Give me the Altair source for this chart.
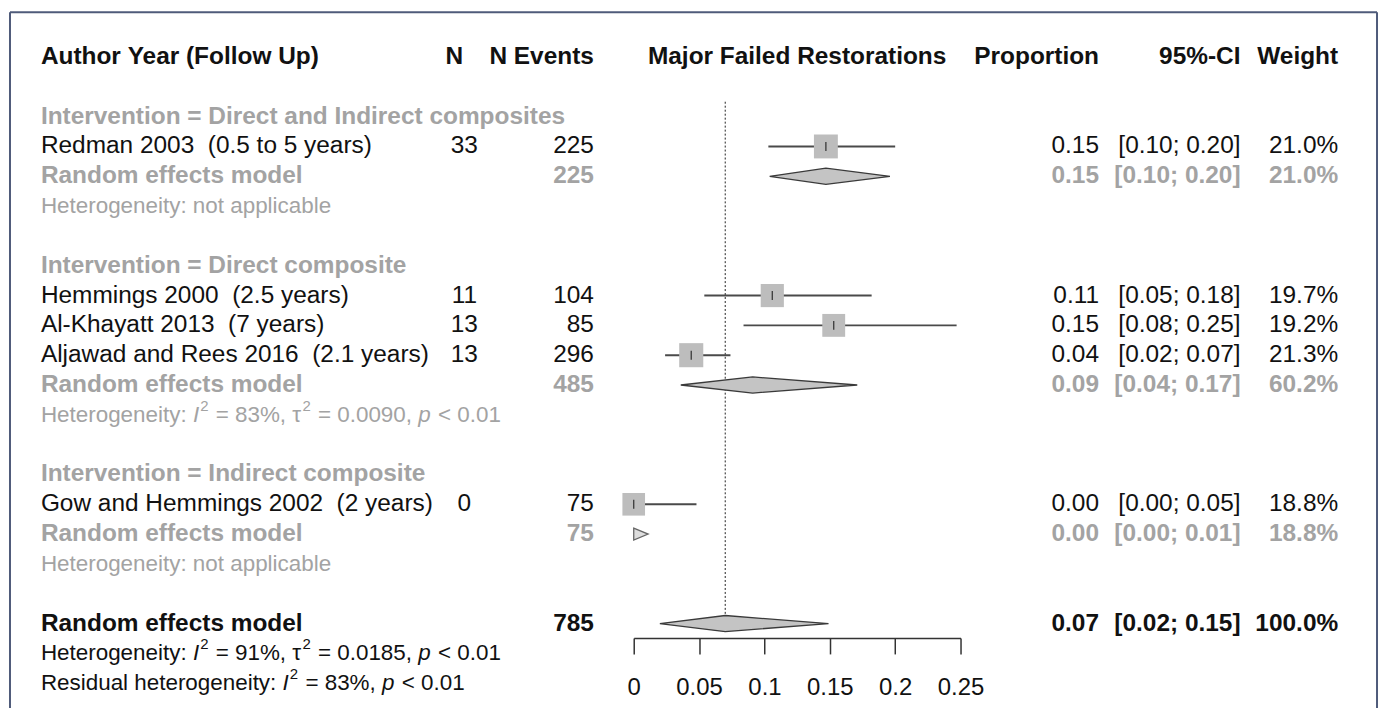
import math
import altair as alt
import pandas as pd

# ---------------- data ----------------
group_names = ["Direct and Indirect composites", "Direct composite", "Indirect composite"]

study_labels = [
    "Redman 2003  (0.5 to 5 years)",
    "Hemmings 2000  (2.5 years)",
    "Al-Khayatt 2013  (7 years)",
    "Aljawad and Rees 2016  (2.1 years)",
    "Gow and Hemmings 2002  (2 years)",
]
study_group = [0, 1, 1, 1, 2]
study_events = [33, 11, 13, 13, 0]
study_n = [225, 104, 85, 296, 75]
study_prop = [0.147, 0.106, 0.153, 0.044, 0.0]
study_lo = [0.103, 0.054, 0.084, 0.024, 0.0]
study_hi = [0.200, 0.182, 0.247, 0.074, 0.048]
study_weight = [21.0, 19.7, 19.2, 21.3, 18.8]

group_prop = [0.147, 0.091, 0.002]
group_lo = [0.104, 0.036, 0.0]
group_hi = [0.196, 0.171, 0.011]
group_weight = [21.0, 60.2, 18.8]
group_i2 = [None, 83, None]
group_tau2 = [None, 0.0090, None]

overall_prop = 0.070
overall_lo = 0.020
overall_hi = 0.149
overall_weight = 100.0
overall_i2 = 91
overall_tau2 = 0.0185
residual_i2 = 83

axis_values = [0, 0.05, 0.1, 0.15, 0.2, 0.25]
header_labels = ["Author Year (Follow Up)", "N", "N Events", "Major Failed Restorations",
                 "Proportion", "95%-CI", "Weight"]

# ---------------- layout / style constants ----------------
FONT = "Liberation Sans"
MAIN = 24.5
HET = 22.5
SUP = 15
BLACK = "#111111"
GRAY = "#a3a3a3"
W, H = 1372, 697
X_LABEL, X_EV, X_N, X_PROP, X_CI, X_W = 31, 456, 586, 1093, 1235, 1333
X_HDR_N, X_HDR_PLOT = 446, 790
NB = "\u00a0"

AW = {' ': 278, '!': 278, '%': 889, '(': 333, ')': 333, ',': 278, '-': 333, '.': 278, ':': 278,
      ';': 278, '<': 584, '=': 584, '>': 584, '[': 278, ']': 278, 'τ': 450,
      'A': 667, 'B': 667, 'C': 722, 'D': 722, 'E': 667, 'F': 611, 'G': 778, 'H': 722, 'I': 278,
      'J': 500, 'K': 667, 'L': 556, 'M': 833, 'N': 722, 'O': 778, 'P': 667, 'Q': 778, 'R': 722,
      'S': 667, 'T': 611, 'U': 722, 'V': 667, 'W': 944, 'X': 667, 'Y': 667, 'Z': 611,
      'a': 556, 'b': 556, 'c': 500, 'd': 556, 'e': 556, 'f': 278, 'g': 556, 'h': 556, 'i': 222,
      'j': 222, 'k': 500, 'l': 222, 'm': 833, 'n': 556, 'o': 556, 'p': 556, 'q': 556, 'r': 333,
      's': 500, 't': 278, 'u': 556, 'v': 500, 'w': 722, 'x': 500, 'y': 500, 'z': 500}


def tw(s, size):
    return sum(AW.get(c, 556) for c in s) / 1000.0 * size


f2 = lambda v: f"{v:.2f}"
ci = lambda lo, hi: f"[{lo:.2f}; {hi:.2f}]"
wt = lambda w: f"{w:.1f}%"

texts = []


def add(px, row, text, color=BLACK, align="left", weight="normal", style="normal", size=MAIN, dy=0):
    texts.append(dict(px=px, row=row, text=str(text).replace(" ", NB), color=color, align=align,
                      weight=weight, style=style, size=size, dy=dy))


def add_het(row, prefix, i2, tau2, color):
    segs = [(prefix, "normal", False), ("I", "italic", False), ("2", "normal", True),
            (f" = {i2}%, ", "normal", False)]
    if tau2 is not None:
        segs += [("τ", "normal", False), ("2", "normal", True), (f" = {tau2:.4f}, ", "normal", False)]
    segs += [("p", "italic", False), (" < 0.01", "normal", False)]
    x = X_LABEL
    for s, st, sup in segs:
        size = SUP if sup else HET
        body = s.lstrip(" ")
        x += tw(s[:len(s) - len(body)], size)          # leading blanks become an advance
        add(x, row, body, color=color, style=st, size=size, dy=-9 if sup else 0)
        x += tw(body, size) + (1.0 if sup else 0) + (1.0 if st == "italic" else 0)


# header row
add(X_LABEL, 0, header_labels[0], weight="bold")
add(X_HDR_N, 0, header_labels[1], weight="bold", align="center")
add(X_N, 0, header_labels[2], weight="bold", align="right")
add(X_HDR_PLOT, 0, header_labels[3], weight="bold", align="center")
add(X_PROP, 0, header_labels[4], weight="bold", align="right")
add(X_CI, 0, header_labels[5], weight="bold", align="right")
add(X_W, 0, header_labels[6], weight="bold", align="right")

squares, cilines, polys, tris = [], [], [], []
row = 2
for g, gname in enumerate(group_names):
    add(X_LABEL, row, f"Intervention = {gname}", color=GRAY, weight="bold")
    row += 1
    for i in range(len(study_labels)):
        if study_group[i] != g:
            continue
        add(X_LABEL, row, study_labels[i])
        add(X_EV, row, study_events[i], align="center")
        add(X_N, row, study_n[i], align="right")
        add(X_PROP, row, f2(study_prop[i]), align="right")
        add(X_CI, row, ci(study_lo[i], study_hi[i]), align="right")
        add(X_W, row, wt(study_weight[i]), align="right")
        side = 24 * math.sqrt(study_weight[i] / 21.0)
        squares.append(dict(x=study_prop[i], row=row, sq=side * side))
        cilines.append(dict(lo=study_lo[i], hi=study_hi[i], row=row))
        row += 1
    nsum = sum(study_n[i] for i in range(len(study_n)) if study_group[i] == g)
    add(X_LABEL, row, "Random effects model", color=GRAY, weight="bold")
    add(X_N, row, nsum, color=GRAY, weight="bold", align="right")
    add(X_PROP, row, f2(group_prop[g]), color=GRAY, weight="bold", align="right")
    add(X_CI, row, ci(group_lo[g], group_hi[g]), color=GRAY, weight="bold", align="right")
    add(X_W, row, wt(group_weight[g]), color=GRAY, weight="bold", align="right")
    if group_lo[g] <= 0:
        h = 0.2
        tris += [dict(id=f"g{g}", x=group_lo[g], y1=row - h, y2=row + h),
                 dict(id=f"g{g}", x=group_hi[g], y1=row, y2=row)]
    else:
        h = 0.27
        polys += [dict(id=f"g{g}", x=group_lo[g], y1=row, y2=row),
                  dict(id=f"g{g}", x=group_prop[g], y1=row - h, y2=row + h),
                  dict(id=f"g{g}", x=group_hi[g], y1=row, y2=row)]
    row += 1
    if group_i2[g] is None:
        add(X_LABEL, row, "Heterogeneity: not applicable", color=GRAY, size=HET)
    else:
        add_het(row, "Heterogeneity: ", group_i2[g], group_tau2[g], GRAY)
    row += 2

overall_row = row
add(X_LABEL, row, "Random effects model", weight="bold")
add(X_N, row, sum(study_n), weight="bold", align="right")
add(X_PROP, row, f2(overall_prop), weight="bold", align="right")
add(X_CI, row, ci(overall_lo, overall_hi), weight="bold", align="right")
add(X_W, row, wt(overall_weight), weight="bold", align="right")
h = 0.27
polys += [dict(id="all", x=overall_lo, y1=row, y2=row),
          dict(id="all", x=overall_prop, y1=row - h, y2=row + h),
          dict(id="all", x=overall_hi, y1=row, y2=row)]
add_het(row + 1, "Heterogeneity: ", overall_i2, overall_tau2, BLACK)
add_het(row + 2, "Residual heterogeneity: ", residual_i2, None, BLACK)

tdf = pd.DataFrame(texts)
sq_df = pd.DataFrame(squares)
ci_df = pd.DataFrame(cilines)
poly_df = pd.DataFrame(polys)
tri_df = pd.DataFrame(tris)
ref_df = pd.DataFrame([dict(x=overall_prop, top=1.5, bottom=overall_row - 0.3)])

xscale = alt.Scale(domain=[0, 0.25], range=[626, 954], nice=False, zero=False)
yscale = alt.Scale(domain=[0, 21], range=[44.9, 673.4], nice=False, zero=False)
xaxis = alt.Axis(values=axis_values, format="~g", orient="bottom", offset=-69, tickSize=16,
                 labelPadding=22, domainColor="#333333", tickColor="#333333", domainWidth=1.5,
                 tickWidth=1.5, labelFontSize=24, labelFont=FONT, labelColor=BLACK, grid=False,
                 title=None, labelFlush=False, labelOverlap=False)
X = lambda f: alt.X(f, scale=xscale, axis=xaxis)
Y = lambda f: alt.Y(f, scale=yscale, axis=None)

ref = alt.Chart(ref_df).mark_rule(color="#222222", strokeWidth=1, strokeDash=[2, 2]).encode(
    x=X("x:Q"), y=Y("top:Q"), y2="bottom:Q")

cil = alt.Chart(ci_df).mark_rule(color="#4a4a4a", strokeWidth=2).encode(
    x=X("lo:Q"), x2="hi:Q", y=Y("row:Q"))

sqs = alt.Chart(sq_df).mark_point(shape="square", filled=True, color="#bdbdbd", opacity=1).encode(
    x=X("x:Q"), y=Y("row:Q"), size=alt.Size("sq:Q", scale=None, legend=None))

tks = alt.Chart(sq_df).mark_tick(orient="vertical", size=9, thickness=1.3, color="#000000").encode(
    x=X("x:Q"), y=Y("row:Q"))

dia = alt.Chart(poly_df).mark_area(orient="vertical", fill="#c4c4c4", stroke="#3a3a3a",
                                   strokeWidth=1.3, opacity=1).encode(
    x=X("x:Q"), y=Y("y1:Q"), y2="y2:Q", detail="id:N")

tri = alt.Chart(tri_df).mark_area(orient="vertical", fill="#dddddd", stroke="#666666",
                                  strokeWidth=1.3, opacity=1).encode(
    x=X("x:Q"), y=Y("y1:Q"), y2="y2:Q", detail="id:N")

layers = [ref, cil, sqs, tks, dia, tri]

for (align, weight, style, size, dy), sub in tdf.groupby(["align", "weight", "style", "size", "dy"]):
    layers.append(
        alt.Chart(sub).mark_text(align=align, fontWeight=weight, fontStyle=style, fontSize=float(size),
                                 dy=float(dy), baseline="middle", font=FONT).encode(
            x=alt.X("px:Q", scale=None, axis=None), y=Y("row:Q"), text="text:N",
            color=alt.Color("color:N", scale=None, legend=None)))

frame_color = "#4f5b7a"
frame = [
    alt.Chart(ref_df).mark_rule(color=frame_color, strokeWidth=2).encode(
        x=alt.value(0), x2=alt.value(W), y=alt.value(0)),
    alt.Chart(ref_df).mark_rule(color=frame_color, strokeWidth=2).encode(
        x=alt.value(0), y=alt.value(0), y2=alt.value(H + 10)),
    alt.Chart(ref_df).mark_rule(color=frame_color, strokeWidth=2).encode(
        x=alt.value(W), y=alt.value(0), y2=alt.value(H + 10)),
]

chart = alt.layer(*layers, *frame).properties(
    width=W, height=H,
    autosize=alt.AutoSizeParams(type="none"),
    padding={"left": 2, "top": 3, "right": 4, "bottom": 0},
    background="white",
).configure_view(stroke=None)

chart.save("out.html", embed_options={"renderer": "svg", "actions": False})
